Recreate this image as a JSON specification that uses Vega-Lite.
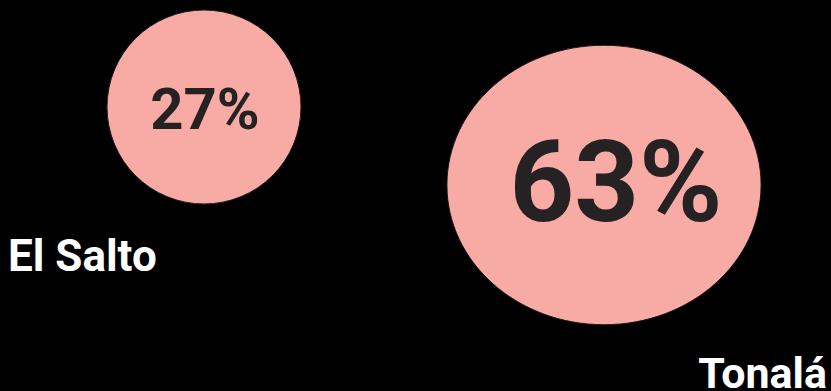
{
  "$schema": "https://vega.github.io/schema/vega-lite/v6.json",
  "width": 831,
  "height": 391,
  "padding": 0,
  "autosize": {"type": "none"},
  "background": "#000000",
  "config": {"view": {"stroke": null}, "font": "Roboto"},
  "data": {
    "values": [
      {"city": "El Salto", "pct": 27, "label": "27%", "cx": 204, "cy": 107, "tx": 205, "ty": 129, "lx": 8, "ly": 271},
      {"city": "Tonalá", "pct": 63, "label": "63%", "cx": 604, "cy": 185, "tx": 616, "ty": 221, "lx": 827, "ly": 388}
    ]
  },
  "layer": [
    {
      "mark": {"type": "point", "filled": true, "opacity": 1, "color": "#f8aba4", "stroke": "#1a1a1a", "strokeWidth": 1},
      "encoding": {
        "x": {"field": "cx", "type": "quantitative", "scale": {"domain": [0, 831], "nice": false, "zero": false}, "axis": null},
        "y": {"field": "cy", "type": "quantitative", "scale": {"domain": [0, 391], "nice": false, "zero": false, "reverse": true}, "axis": null},
        "size": {"field": "pct", "type": "quantitative", "scale": {"domain": [0, 63], "range": [0, 87822], "zero": true}, "legend": null},
        "shape": {"field": "city", "type": "nominal", "scale": {"domain": ["El Salto", "Tonalá"], "range": ["circle", "M-1.06,0A1.06,0.943 0 1,1 1.06,0A1.06,0.943 0 1,1 -1.06,0Z"]}, "legend": null}
      }
    },
    {
      "mark": {"type": "text", "font": "Roboto", "fontWeight": "bold", "color": "#262223", "align": "center", "baseline": "alphabetic"},
      "encoding": {
        "x": {"field": "tx", "type": "quantitative"},
        "y": {"field": "ty", "type": "quantitative"},
        "text": {"field": "label"},
        "size": {"field": "pct", "type": "quantitative", "scale": {"domain": [27, 63], "range": [58, 113], "zero": false}, "legend": null}
      }
    },
    {
      "transform": [{"filter": "datum.city === 'El Salto'"}],
      "mark": {"type": "text", "font": "Roboto", "fontWeight": "bold", "color": "#ffffff", "align": "left", "baseline": "alphabetic", "fontSize": 44},
      "encoding": {
        "x": {"field": "lx", "type": "quantitative"},
        "y": {"field": "ly", "type": "quantitative"},
        "text": {"field": "city"}
      }
    },
    {
      "transform": [{"filter": "datum.city === 'Tonalá'"}],
      "mark": {"type": "text", "font": "Roboto", "fontWeight": "bold", "color": "#ffffff", "align": "right", "baseline": "alphabetic", "fontSize": 43},
      "encoding": {
        "x": {"field": "lx", "type": "quantitative"},
        "y": {"field": "ly", "type": "quantitative"},
        "text": {"field": "city"}
      }
    }
  ],
  "resolve": {"scale": {"size": "independent"}}
}
